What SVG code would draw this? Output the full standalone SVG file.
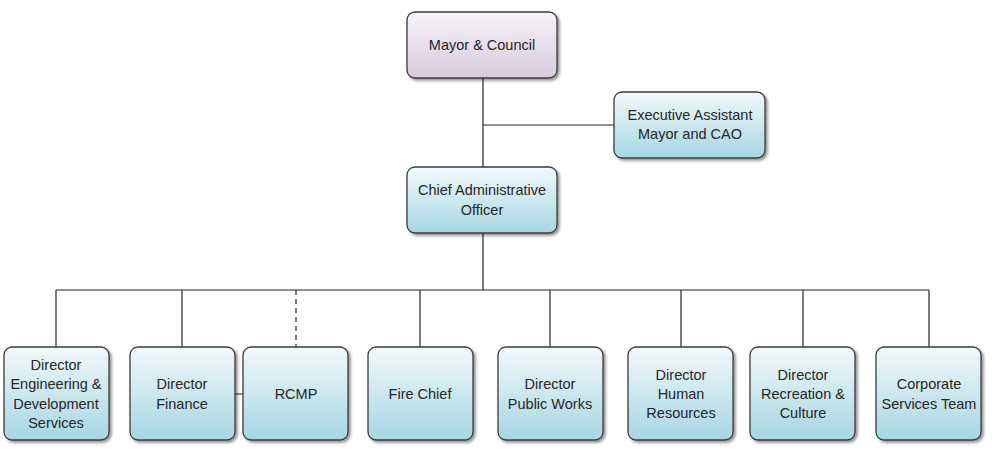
<svg xmlns="http://www.w3.org/2000/svg" width="992" height="451" viewBox="0 0 992 451">
<defs>
<linearGradient id="gb" x1="0" y1="0" x2="0" y2="1">
<stop offset="0" stop-color="#f2f9fb"/>
<stop offset="1" stop-color="#a6d6e2"/>
</linearGradient>
<linearGradient id="gp" x1="0" y1="0" x2="0" y2="1">
<stop offset="0" stop-color="#f7f3f8"/>
<stop offset="1" stop-color="#d6cbdf"/>
</linearGradient>
<filter id="sh" x="-10%" y="-10%" width="130%" height="130%">
<feGaussianBlur in="SourceAlpha" stdDeviation="1.5"/>
<feOffset dx="2" dy="2" result="b"/>
<feComponentTransfer><feFuncA type="linear" slope="0.45"/></feComponentTransfer>
<feMerge><feMergeNode/><feMergeNode in="SourceGraphic"/></feMerge>
</filter>
</defs>
<style>
.n{fill:url(#gb);stroke:#3c3c3c;stroke-width:1.3;filter:url(#sh)}
.p{fill:url(#gp)}
.t{font-family:"Liberation Sans","DejaVu Sans",sans-serif;font-size:14.5px;fill:#262626;text-anchor:middle}
.c{stroke:#262626;stroke-width:1.2;fill:none}
.d{stroke-dasharray:5,4}
</style>
<rect width="992" height="451" fill="#ffffff"/>
<g id="connectors">
<path class="c" d="M483 78V167M483 125H614M483 233V290M56 290H929M56 290V347M182 290V347M420 290V347M550 290V347M681 290V347M803 290V347M929 290V347M235 394H243"/>
<path class="c d" d="M296 290V347"/>
</g>
<g id="mayor"><rect class="n p" x="407" y="12" width="150" height="66" rx="8"/><text class="t" x="482" y="50">Mayor &amp; Council</text></g>
<g id="exec"><rect class="n" x="614" y="92" width="151" height="66" rx="8"/><text class="t" x="690" y="120">Executive Assistant</text><text class="t" x="690" y="139">Mayor and CAO</text></g>
<g id="cao"><rect class="n" x="407" y="167" width="150" height="66" rx="8"/><text class="t" x="482" y="195">Chief Administrative</text><text class="t" x="482" y="215">Officer</text></g>
<g id="eng"><rect class="n" x="4" y="347" width="105" height="93" rx="8"/><text class="t" x="56" y="370">Director</text><text class="t" x="56" y="389">Engineering &amp;</text><text class="t" x="56" y="409">Development</text><text class="t" x="56" y="428">Services</text></g>
<g id="finance"><rect class="n" x="130" y="347" width="105" height="93" rx="8"/><text class="t" x="182" y="389">Director</text><text class="t" x="182" y="409">Finance</text></g>
<g id="rcmp"><rect class="n" x="243" y="347" width="105" height="93" rx="8"/><text class="t" x="296" y="399">RCMP</text></g>
<g id="fire"><rect class="n" x="368" y="347" width="105" height="93" rx="8"/><text class="t" x="420" y="399">Fire Chief</text></g>
<g id="publicworks"><rect class="n" x="498" y="347" width="105" height="93" rx="8"/><text class="t" x="550" y="389">Director</text><text class="t" x="550" y="409">Public Works</text></g>
<g id="hr"><rect class="n" x="628" y="347" width="105" height="93" rx="8"/><text class="t" x="681" y="380">Director</text><text class="t" x="681" y="399">Human</text><text class="t" x="681" y="418">Resources</text></g>
<g id="rec"><rect class="n" x="750" y="347" width="105" height="93" rx="8"/><text class="t" x="803" y="380">Director</text><text class="t" x="803" y="399">Recreation &amp;</text><text class="t" x="803" y="418">Culture</text></g>
<g id="corp"><rect class="n" x="876" y="347" width="105" height="93" rx="8"/><text class="t" x="929" y="389">Corporate</text><text class="t" x="929" y="409">Services Team</text></g>
</svg>
